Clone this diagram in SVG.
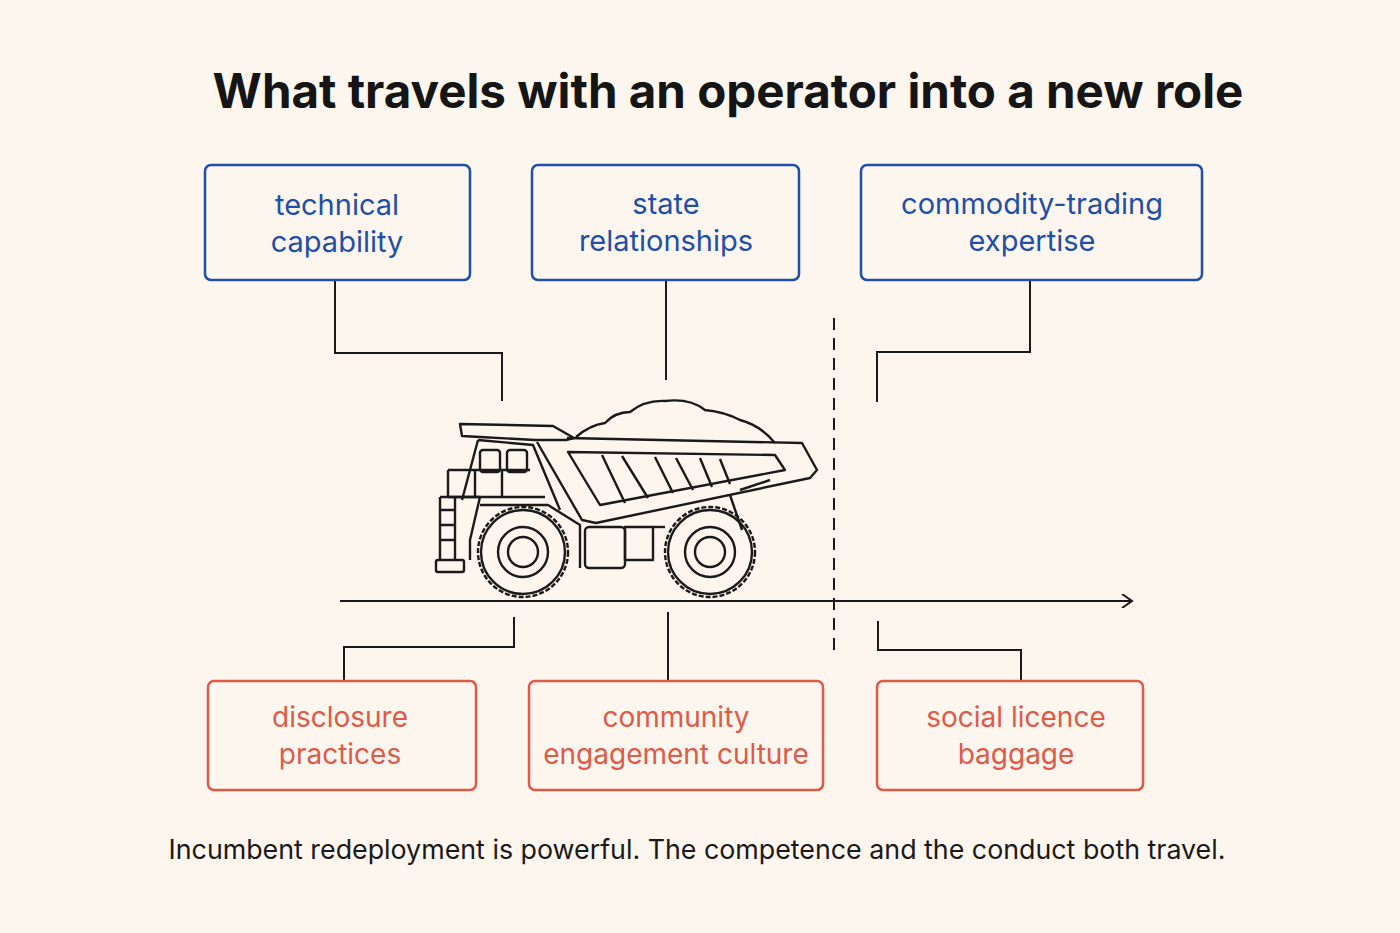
<svg xmlns="http://www.w3.org/2000/svg" width="1400" height="933" viewBox="0 0 1400 933">
<style>
.b{fill:none;stroke:#1f4fa8;stroke-width:2.5}
.r{fill:none;stroke:#e05a4a;stroke-width:2.5}
.bt{font-family:"Inter","Liberation Sans",sans-serif;font-size:29px;fill:#1f4fa8;text-anchor:middle}
.rt{font-family:"Inter","Liberation Sans",sans-serif;font-size:28px;fill:#e05a4a;text-anchor:middle}
.c{fill:none;stroke:#1a1a1a;stroke-width:2}
.t{fill:none;stroke:#1a1a1a;stroke-width:2.4;stroke-linejoin:round}
</style>
<defs><marker id="ah" markerWidth="14" markerHeight="14" refX="12" refY="7" orient="auto" markerUnits="userSpaceOnUse"><path d="M2,0 L12,7 L2,14" fill="none" stroke="#1a1a1a" stroke-width="2"/></marker></defs>
<rect width="1400" height="933" fill="#fcf6ee"/>
<text x="728" y="108" font-family="Inter,'Liberation Sans',sans-serif" font-size="47.5" font-weight="bold" fill="#151515" text-anchor="middle">What travels with an operator into a new role</text>
<g id="connectors">
<path class="c" d="M335,280 V353 H502 V401"/>
<path class="c" d="M666,280 V380"/>
<path class="c" d="M1030,280 V352 H877 V402"/>
<path class="c" d="M514,617 V647 H344 V681"/>
<path class="c" d="M668,612 V681"/>
<path class="c" d="M878,621 V650 H1021 V681"/>
<path class="c" d="M834,318 V655" stroke-dasharray="12,8"/>
<path class="c" d="M340,601 H1132" marker-end="url(#ah)"/>
</g>
<g id="n1"><rect class="b" x="205" y="165" width="265" height="115" rx="6"/><text class="bt" x="337" y="215">technical</text><text class="bt" x="337" y="252">capability</text></g>
<g id="n2"><rect class="b" x="532" y="165" width="267" height="115" rx="6"/><text class="bt" x="666" y="214">state</text><text class="bt" x="666" y="251">relationships</text></g>
<g id="n3"><rect class="b" x="861" y="165" width="341" height="115" rx="6"/><text class="bt" x="1032" y="214">commodity-trading</text><text class="bt" x="1032" y="251">expertise</text></g>
<g id="n4"><rect class="r" x="208" y="681" width="268" height="109" rx="6"/><text class="rt" x="340" y="727">disclosure</text><text class="rt" x="340" y="764">practices</text></g>
<g id="n5"><rect class="r" x="529" y="681" width="294" height="109" rx="6"/><text class="rt" x="676" y="727">community</text><text class="rt" x="676" y="764">engagement culture</text></g>
<g id="n6"><rect class="r" x="877" y="681" width="266" height="109" rx="6"/><text class="rt" x="1016" y="727">social licence</text><text class="rt" x="1016" y="764">baggage</text></g>
<g id="truck">
<path class="t" d="M576,437 Q590,425 605,423 Q615,412 630,412 Q645,400 665,401 Q690,398 705,410 Q725,412 740,420 Q760,425 775,443"/>
<path class="t" d="M460,424 L553,426 L574,438 L566,440 L535,440 L480,437 L462,436 Z"/>
<path class="t" d="M567,438 L802,443 L817,470 L810,478 L596,523 L582,520 L537,442"/>
<path class="t" d="M568,452 L775,455 L785,470 L600,505 Z"/>
<path class="t" d="M602,455 L625,503 M622,456 L648,498 M655,457 L673,493 M676,458 L693,490 M700,458 L712,487 M720,459 L730,484"/>
<path class="t" d="M478,440 L470,470 L462,500 M478,440 L533,445 L560,510"/>
<rect class="t" x="480" y="450" width="20" height="22" rx="3"/><rect class="t" x="507" y="450" width="20" height="22" rx="3"/>
<path class="t" d="M448,470 H530 M448,470 V497 M448,497 H545 M475,470 V497 M502,470 V497"/>
<path class="t" d="M440,497 H480 L470,540 V560 M440,497 V560 M440,510 H455 M440,525 H455 M440,540 H455 M455,497 V560"/>
<rect class="t" x="436" y="560" width="28" height="12" rx="2"/>
<path class="t" d="M480,505 H548 L580,525 V568 M740,490 L770,480 M730,495 L742,530"/>
<rect class="t" x="585" y="527" width="40" height="41" rx="4"/>
<rect class="t" x="625" y="527" width="28" height="33"/>
<path class="t" d="M653,527 H665"/>
<circle class="t" cx="523" cy="552" r="45" stroke-dasharray="5,2"/>
<circle class="t" cx="523" cy="552" r="42"/>
<circle class="t" cx="523" cy="552" r="25"/><circle class="t" cx="523" cy="552" r="15"/>
<circle class="t" cx="710" cy="552" r="45" stroke-dasharray="5,2"/>
<circle class="t" cx="710" cy="552" r="42"/>
<circle class="t" cx="710" cy="552" r="25"/><circle class="t" cx="710" cy="552" r="15"/>
</g>
<text x="697" y="859" font-family="Inter,'Liberation Sans',sans-serif" font-size="26.8" fill="#1a1a1a" text-anchor="middle">Incumbent redeployment is powerful. The competence and the conduct both travel.</text>
</svg>
